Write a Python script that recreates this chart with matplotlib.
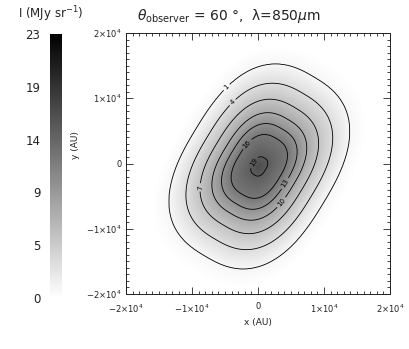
import numpy as np
import matplotlib
matplotlib.use("Agg")
import matplotlib.pyplot as plt

# ---- data ----
contour_levels = [1, 4, 7, 10, 13, 16, 19]
# radial intensity profile along the major axis (AU, MJy/sr)
profile_r = [0.0, 1500, 5000, 6700, 8400, 10500, 13000, 16000, 19000, 30000]
profile_I = [21.0, 19.0, 16.0, 13.0, 10.0, 7.0, 4.0, 1.0, 0.0, 0.0]
axis_ratio = 1.43          # major / minor
pa_deg = 59.0              # major axis angle from +x
box_power = 2.6            # superellipse exponent (boxy outer contours)
center = (200.0, -450.0)   # AU
vmin, vmax = 0.0, 23.0
img_vmax = 30.0            # displayed image is lighter than the bar
cbar_ticks = [0, 4.6, 9.2, 13.8, 18.4, 23]
cbar_labels = ["0", "5", "9", "14", "19", "23"]
xticks = [-2e4, -1e4, 0, 1e4, 2e4]
xtick_labels = ["\u22122\u00d710$^4$", "\u22121\u00d710$^4$", "0", "1\u00d710$^4$", "2\u00d710$^4$"]

W, H = 409, 349
fig = plt.figure(figsize=(W / 100, H / 100), dpi=100)
txtc = "#222222"

# field
n = 400
x = np.linspace(-2e4, 2e4, n)
X, Y = np.meshgrid(x, x)
t = np.deg2rad(pa_deg)
Xc, Yc = X - center[0], Y - center[1]
U = Xc * np.cos(t) + Yc * np.sin(t)
V = -Xc * np.sin(t) + Yc * np.cos(t)
S = (np.abs(U) ** box_power + np.abs(V * axis_ratio) ** box_power) ** (1 / box_power)
I = np.interp(S, profile_r, profile_I)

ax = fig.add_axes([126 / W, (H - 294) / H, 264 / W, 261 / H])
ax.imshow(I, origin="lower", extent=[-2e4, 2e4, -2e4, 2e4], cmap="gray_r",
          vmin=vmin, vmax=img_vmax, interpolation="bilinear", aspect="auto")
cs = ax.contour(X, Y, I, levels=contour_levels, colors="black", linewidths=0.6)
ax.clabel(cs, fmt="%d", fontsize=5, inline=True, inline_spacing=2)
ax.set_xlim(-2e4, 2e4)
ax.set_ylim(-2e4, 2e4)
ax.set_xticks(xticks)
ax.set_xticklabels(xtick_labels)
ax.set_yticks(xticks)
ax.set_yticklabels(xtick_labels)
ax.set_xticks(np.arange(-2e4, 2.01e4, 1000), minor=True)
ax.set_yticks(np.arange(-2e4, 2.01e4, 1000), minor=True)
ax.tick_params(which="both", direction="in", top=True, right=True, colors=txtc,
               labelsize=6, width=0.6)
ax.tick_params(axis="x", which="major", pad=6)
ax.tick_params(axis="y", which="major", pad=3)
ax.tick_params(which="major", length=5)
ax.tick_params(which="minor", length=2.5)
for sp in ax.spines.values():
    sp.set_linewidth(0.7)
    sp.set_color(txtc)
ax.set_xlabel("x (AU)", fontsize=6.5, color=txtc, labelpad=2)
fig.text(75 / W, 1 - 145 / H, "y (AU)", rotation=90, fontsize=6.5, color=txtc,
         ha="center", va="center")

# colorbar
cax = fig.add_axes([50 / W, (H - 298) / H, 12 / W, 264 / H])
grad = np.linspace(vmin, vmax, 256).reshape(-1, 1)
cax.imshow(grad, origin="lower", extent=[0, 1, vmin, vmax], cmap="gray_r",
           vmin=vmin, vmax=vmax, aspect="auto")
cax.set_xticks([])
cax.set_yticks(cbar_ticks)
cax.set_yticklabels(cbar_labels)
cax.tick_params(axis="y", length=0, labelsize=8.5, colors=txtc, pad=7)
for sp in cax.spines.values():
    sp.set_visible(False)

fig.text(18 / W, 1 - 14 / H, "I (MJy sr$^{-1}$)", fontsize=8.5, color=txtc,
         ha="left", va="center")
fig.text(137 / W, 1 - 16 / H,
         r"$\theta_{\mathrm{observer}}$ = 60 °,  λ=850$\mu$m",
         fontsize=10, color=txtc, ha="left", va="center")

fig.savefig("out.png", dpi=100)
